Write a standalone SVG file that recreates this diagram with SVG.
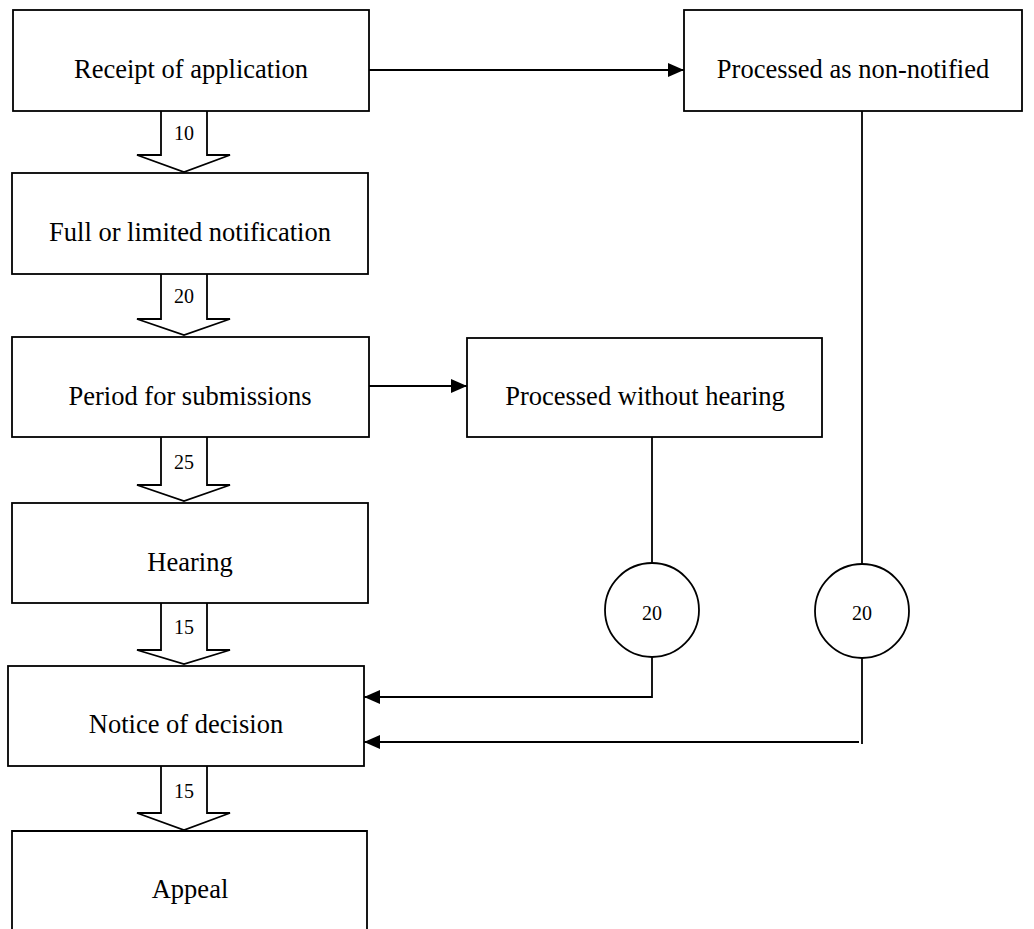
<svg xmlns="http://www.w3.org/2000/svg" width="1034" height="929" viewBox="0 0 1034 929">
<style>
.box{fill:#fff;stroke:#000;stroke-width:1.8}
.blk{fill:#fff;stroke:#000;stroke-width:1.8;stroke-linejoin:miter}
.ln{fill:none;stroke:#000;stroke-width:1.8}
.t{font-family:"Liberation Serif","Times New Roman",serif;font-size:26.5px;fill:#000;text-anchor:middle}
.n{font-family:"Liberation Serif","Times New Roman",serif;font-size:20px;fill:#000;text-anchor:middle}
</style>
<defs>
<marker id="ah" markerUnits="userSpaceOnUse" markerWidth="16" markerHeight="14" refX="16" refY="7" orient="auto">
<path d="M0,0 L16,7 L0,14 z" fill="#000"/>
</marker>
</defs>
<rect width="1034" height="929" fill="#fff"/>
<g id="connectors">
<line class="ln" x1="369" y1="70" x2="684" y2="70" marker-end="url(#ah)"/>
<line class="ln" x1="369" y1="386" x2="467" y2="386" marker-end="url(#ah)"/>
<line class="ln" x1="652" y1="437" x2="652" y2="563"/>
<polyline class="ln" points="652,657 652,697 364,697" marker-end="url(#ah)"/>
<line class="ln" x1="862" y1="111" x2="862" y2="564"/>
<line class="ln" x1="862" y1="658" x2="862" y2="744"/>
<line class="ln" x1="859" y1="742" x2="364" y2="742" marker-end="url(#ah)"/>
<g id="arrow10"><path class="blk" d="M161,111 L161,155 L137,155 L184,172 L230,155 L207,155 L207,111"/><text class="n" x="184" y="140">10</text></g>
<g id="arrow20"><path class="blk" d="M161,274 L161,319 L137,319 L184,335 L230,319 L207,319 L207,274"/><text class="n" x="184" y="303">20</text></g>
<g id="arrow25"><path class="blk" d="M161,437 L161,485 L137,485 L184,501 L230,485 L207,485 L207,437"/><text class="n" x="184" y="469">25</text></g>
<g id="arrow15a"><path class="blk" d="M161,603 L161,650 L137,650 L184,664 L230,650 L207,650 L207,603"/><text class="n" x="184" y="634">15</text></g>
<g id="arrow15b"><path class="blk" d="M161,766 L161,813 L137,813 L184,830 L230,813 L207,813 L207,766"/><text class="n" x="184" y="798">15</text></g>
</g>
<g id="receipt"><rect class="box" x="13" y="10" width="356" height="101"/><text class="t" x="191" y="78">Receipt of application</text></g>
<g id="notification"><rect class="box" x="12" y="173" width="356" height="101"/><text class="t" x="190" y="241">Full or limited notification</text></g>
<g id="submissions"><rect class="box" x="12" y="337" width="357" height="100"/><text class="t" x="190" y="405">Period for submissions</text></g>
<g id="hearing"><rect class="box" x="12" y="503" width="356" height="100"/><text class="t" x="190" y="571">Hearing</text></g>
<g id="decision"><rect class="box" x="8" y="666" width="356" height="100"/><text class="t" x="186" y="733">Notice of decision</text></g>
<g id="appeal"><path class="box" d="M12,935 L12,831 L367,831 L367,935"/><text class="t" x="190" y="898">Appeal</text></g>
<g id="nonnotified"><rect class="box" x="684" y="10" width="338" height="101"/><text class="t" x="853" y="78">Processed as non-notified</text></g>
<g id="withouthearing"><rect class="box" x="467" y="338" width="355" height="99"/><text class="t" x="645" y="405">Processed without hearing</text></g>
<g id="circle1"><circle class="box" cx="652" cy="610" r="47"/><text class="n" x="652" y="620">20</text></g>
<g id="circle2"><circle class="box" cx="862" cy="611" r="47"/><text class="n" x="862" y="620">20</text></g>
</svg>
